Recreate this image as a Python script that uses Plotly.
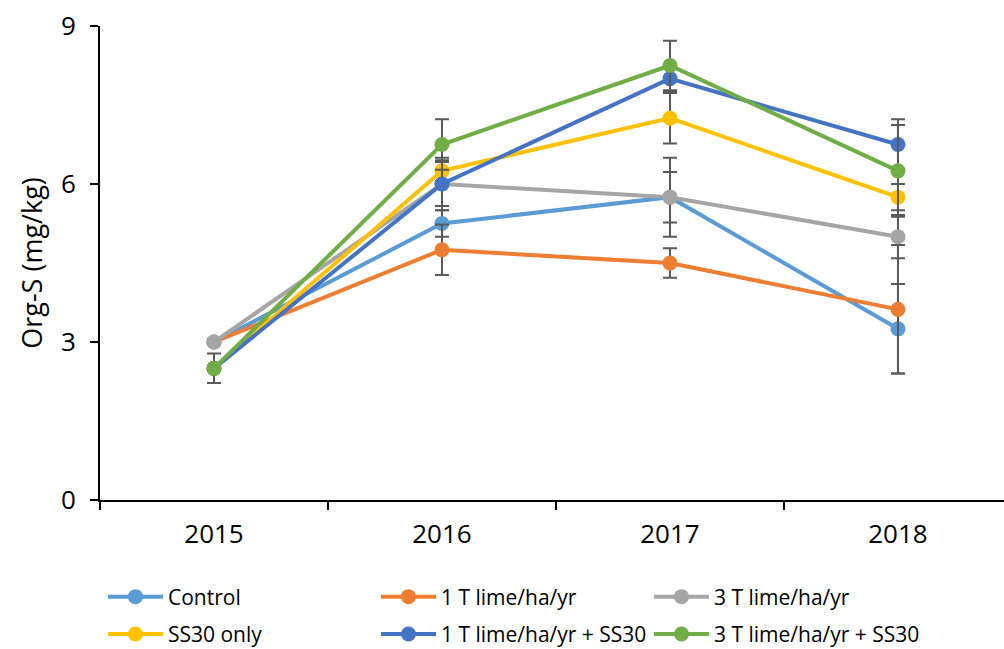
import plotly.graph_objects as go

years = ["2015", "2016", "2017", "2018"]

series_names = [
    "Control",
    "1 T lime/ha/yr",
    "3 T lime/ha/yr",
    "SS30 only",
    "1 T lime/ha/yr + SS30",
    "3 T lime/ha/yr + SS30",
]

control = [3.0, 5.25, 5.75, 3.25]
lime1 = [3.0, 4.75, 4.5, 3.62]
lime3 = [3.0, 6.0, 5.75, 5.0]
ss30 = [2.5, 6.25, 7.25, 5.75]
lime1_ss30 = [2.5, 6.0, 8.0, 6.75]
lime3_ss30 = [2.5, 6.75, 8.25, 6.25]

control_err = [0.05, 0.25, 0.48, 0.85]
lime1_err = [0.05, 0.48, 0.28, 1.22]
lime3_err = [0.05, 0.5, 0.75, 0.41]
ss30_err = [0.05, 0.2, 0.48, 0.25]
lime1_ss30_err = [0.05, 0.42, 0.25, 0.48]
lime3_ss30_err = [0.28, 0.48, 0.47, 0.87]

values = [control, lime1, lime3, ss30, lime1_ss30, lime3_ss30]
errors = [control_err, lime1_err, lime3_err, ss30_err, lime1_ss30_err, lime3_ss30_err]
colors = ["#5B9BD5", "#ED7D31", "#A5A5A5", "#FFC000", "#4472C4", "#70AD47"]
legend_ids = ["legend", "legend", "legend", "legend2", "legend2", "legend2"]

FONT = "Open Sans"

fig = go.Figure()
for name, ys, err, col, lg in zip(series_names, values, errors, colors, legend_ids):
    fig.add_trace(go.Scatter(
        x=years, y=ys, name=name, mode="lines+markers",
        line=dict(color=col, width=4),
        marker=dict(color=col, size=15),
        error_y=dict(type="data", array=err, visible=True,
                     color="#595959", thickness=2, width=7),
        legend=lg,
    ))

legend_common = dict(
    orientation="h", xanchor="left", yanchor="middle",
    font=dict(family=FONT, size=21, color="#000000"),
    entrywidth=203, entrywidthmode="pixels",
    bgcolor="rgba(0,0,0,0)", itemwidth=55,
)

fig.update_layout(
    width=1004, height=649,
    margin=dict(l=100, r=0, t=26, b=149, autoexpand=False),
    paper_bgcolor="white", plot_bgcolor="white",
    font=dict(family=FONT, color="#000000"),
    showlegend=True,
    legend=dict(x=0.0033, y=-0.2046, **legend_common),
    legend2=dict(x=0.0033, y=-0.2835, **legend_common),
    xaxis=dict(
        type="category", range=[-0.5, 3.465],
        showline=True, linecolor="#000000", linewidth=2,
        ticks="outside", tickson="boundaries", ticklen=8,
        tickcolor="#000000", tickwidth=1.5, ticklabelstandoff=10,
        showgrid=False, zeroline=False,
        tickfont=dict(family=FONT, size=26, color="#000000"),
    ),
    yaxis=dict(
        range=[0, 9], tickvals=[0, 3, 6, 9],
        showline=True, linecolor="#000000", linewidth=2,
        ticks="outside", ticklen=8, tickcolor="#000000", tickwidth=1.5,
        ticklabelstandoff=9,
        showgrid=False, zeroline=False,
        tickfont=dict(family=FONT, size=26, color="#000000"),
        title=dict(text="Org-S (mg/kg)", font=dict(family=FONT, size=27, color="#000000"),
                   standoff=10),
    ),
)

fig.write_html("out.html")
